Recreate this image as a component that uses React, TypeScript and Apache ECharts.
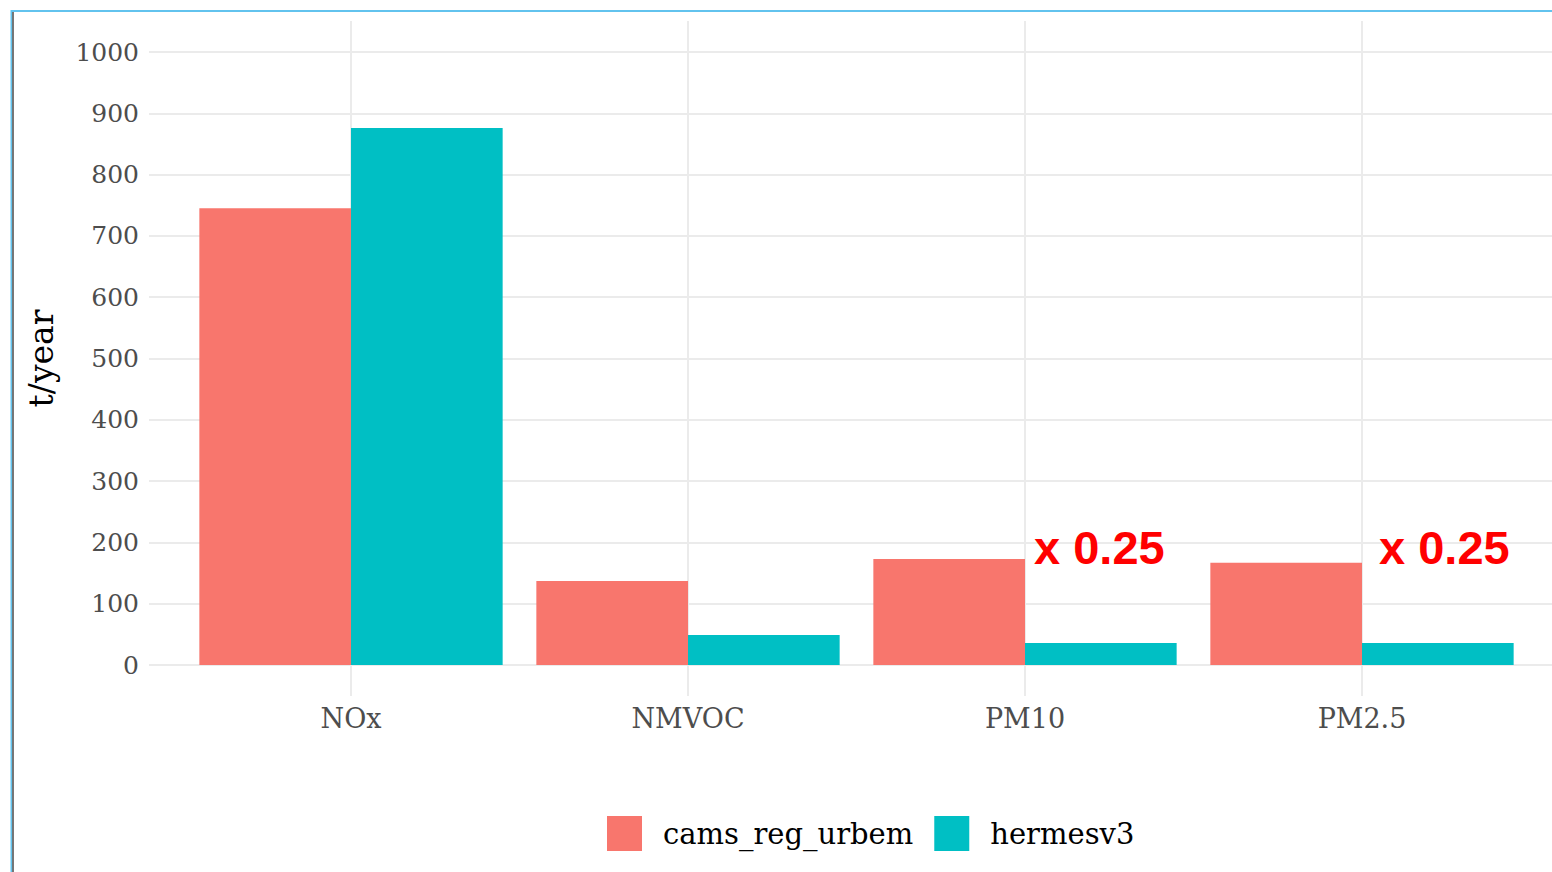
import React, { useEffect, useRef } from "react";
import * as echarts from "echarts";

const categories = ["NOx", "NMVOC", "PM10", "PM2.5"];
const seriesNames = ["cams_reg_urbem", "hermesv3"];
const camsValues = [745, 137, 173, 167];
const hermesValues = [876, 49, 36, 36];
const annotations = ["", "", "x 0.25", "x 0.25"];
const annotationOffsets = [0, 0, 9, 17];
const yTicks = { min: 0, max: 1000, interval: 100 };
const catPositions = { min: 1, max: 4, interval: 1 };

export default function App() {
  const ref = useRef<HTMLDivElement>(null);
  useEffect(() => {
    if (!ref.current) return;
    const chart = echarts.init(ref.current, undefined, { renderer: "svg" });
    const serif = "DejaVu Serif";
    const gridLine = { lineStyle: { color: "#ebebeb", width: 2 } };
    const hermesData = hermesValues.map((v, i) =>
      annotations[i]
        ? {
            value: v,
            label: {
              show: true,
              formatter: annotations[i],
              position: [annotationOffsets[i], -95],
              align: "left",
              verticalAlign: "middle",
              color: "#ff0000",
              fontFamily: "Liberation Sans",
              fontWeight: "bold",
              fontSize: 47,
            },
          }
        : v
    );
    chart.setOption({
      animation: false,
      backgroundColor: "#ffffff",
      grid: [
        { left: 149, right: -12, top: 52, bottom: 207 },
        { left: 182.5, right: 21.5, top: 52, bottom: 207 },
        { left: 351, right: 190, top: 21, bottom: 176 },
      ],
      xAxis: [
        { gridIndex: 0, type: "value", show: false, min: 0, max: 1 },
        {
          gridIndex: 1,
          type: "category",
          data: categories,
          axisLine: { show: false },
          axisTick: { show: false },
          splitLine: { show: false },
          axisLabel: { color: "#4d4d4d", fontFamily: serif, fontSize: 27, margin: 40 },
        },
        {
          gridIndex: 2,
          type: "value",
          min: catPositions.min,
          max: catPositions.max,
          interval: catPositions.interval,
          axisLine: { show: false },
          axisTick: { show: false },
          axisLabel: { show: false },
          splitLine: { show: true, ...gridLine },
        },
      ],
      yAxis: [
        {
          gridIndex: 0,
          type: "value",
          min: yTicks.min,
          max: yTicks.max,
          interval: yTicks.interval,
          name: "t/year",
          nameLocation: "middle",
          nameGap: 91,
          nameTextStyle: { color: "#000000", fontFamily: serif, fontSize: 33 },
          axisLine: { show: false },
          axisTick: { show: false },
          axisLabel: {
            color: "#4d4d4d",
            fontFamily: serif,
            fontSize: 25,
            margin: 10,
            formatter: (v: number) => String(v),
          },
          splitLine: { show: true, ...gridLine },
        },
        { gridIndex: 1, type: "value", show: false, min: yTicks.min, max: yTicks.max, splitLine: { show: false } },
        { gridIndex: 2, type: "value", show: false, min: 0, max: 1, splitLine: { show: false } },
      ],
      legend: {
        left: 602,
        top: 811,
        itemWidth: 35,
        itemHeight: 35,
        itemGap: 21,
        icon: "rect",
        data: seriesNames,
        textStyle: { color: "#000000", fontFamily: serif, fontSize: 29, padding: [0, 0, 0, 16] },
      },
      series: [
        {
          name: seriesNames[0],
          type: "bar",
          xAxisIndex: 1,
          yAxisIndex: 1,
          data: camsValues,
          itemStyle: { color: "#F8766D" },
          barGap: "0%",
          barCategoryGap: "10%",
        },
        {
          name: seriesNames[1],
          type: "bar",
          xAxisIndex: 1,
          yAxisIndex: 1,
          data: hermesData,
          itemStyle: { color: "#00BFC4" },
          barGap: "0%",
          barCategoryGap: "10%",
        },
      ],
      graphic: [
        { type: "rect", shape: { x: 11, y: 10, width: 1541, height: 2 }, style: { fill: "#62c3ee" }, silent: true },
        { type: "rect", shape: { x: 10.5, y: 10, width: 1.6, height: 862 }, style: { fill: "#62c3ee" }, silent: true },
        { type: "rect", shape: { x: 12.2, y: 12, width: 1.6, height: 860 }, style: { fill: "#555555" }, silent: true },
      ],
    });
    return () => chart.dispose();
  }, []);
  return (
    <div
      ref={ref}
      style={{ position: "absolute", left: 0, top: 0, width: 1552, height: 872 }}
    />
  );
}
